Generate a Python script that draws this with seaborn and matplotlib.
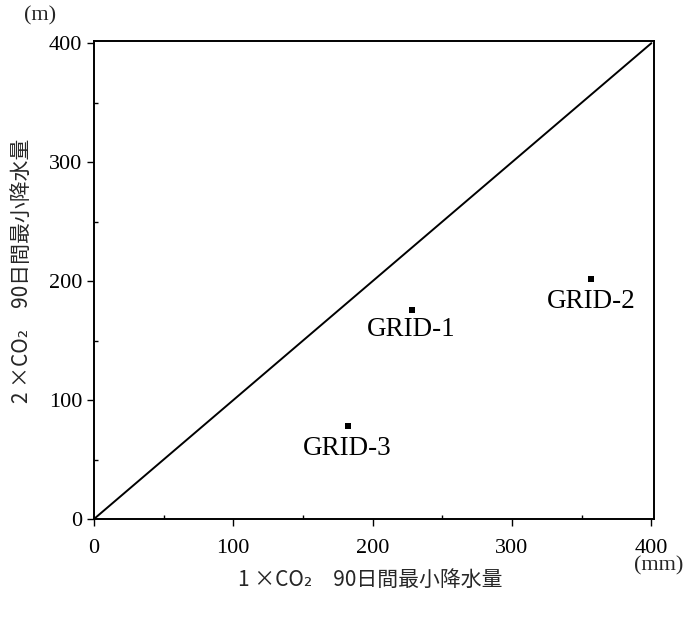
import matplotlib
matplotlib.use("Agg")
import matplotlib.pyplot as plt
import seaborn as sns
import pandas as pd
from matplotlib.ticker import MultipleLocator

# Data
grid_names = ["GRID-1", "GRID-2", "GRID-3"]
x_1co2 = [228, 357, 182]
y_2co2 = [176, 202, 78]
diag_x = [0, 400]
diag_y = [0, 400]
x_ticks = [0, 100, 200, 300, 400]
y_ticks = [0, 100, 200, 300, 400]

sns.set_theme(style="white")
plt.rcParams['font.family'] = ['Liberation Serif', 'DejaVu Serif']
jp_family = ['Noto Sans CJK JP', 'DejaVu Sans']

fig = plt.figure(figsize=(6.85, 6.18), dpi=100)
ax = fig.add_axes([0.137, 0.160, 0.818, 0.774])

df = pd.DataFrame({"x": x_1co2, "y": y_2co2, "name": grid_names})
sns.lineplot(x=diag_x, y=diag_y, ax=ax, color="black", linewidth=1.4)
sns.scatterplot(data=df, x="x", y="y", ax=ax, marker="s", s=24, color="black",
                edgecolor="black", linewidth=0)

offsets = {"GRID-1": -20, "GRID-2": -23, "GRID-3": -22}
for _, r in df.iterrows():
    ax.annotate(r["name"], (r["x"], r["y"]), xytext=(0, offsets[r["name"]]),
                textcoords="offset pixels",
                ha="center", va="center", fontsize=19.5, color="black")

ax.set_xlim(0, 402)
ax.set_ylim(0, 402)
ax.set_xticks(x_ticks)
ax.set_yticks(y_ticks)
ax.xaxis.set_minor_locator(MultipleLocator(50))
ax.yaxis.set_minor_locator(MultipleLocator(50))
ax.tick_params(axis="both", which="major", direction="out", length=5, width=1,
               color="black", labelsize=16, labelcolor="black", bottom=True, left=True)
ax.tick_params(axis="both", which="minor", direction="in", length=3, width=1,
               color="black", bottom=True, left=True)
ax.tick_params(axis="x", which="major", pad=9)
for s in ax.spines.values():
    s.set_color("black")
    s.set_linewidth(1.4)

ax.set_xlabel("")
ax.set_ylabel("")

fig.text(0.54, 0.062, "1 ×CO₂　90日間最小降水量", ha="center", va="center",
         fontsize=15, family=jp_family)
fig.text(0.032, 0.562, "2 ×CO₂　90日間最小降水量", ha="center", va="center",
         rotation=90, fontsize=15, family=jp_family)
fig.text(0.058, 0.975, "(m)", ha="center", va="center", fontsize=16)
fig.text(0.998, 0.085, "(mm)", ha="right", va="center", fontsize=16)

fig.savefig("out.png", dpi=100, facecolor="white")
